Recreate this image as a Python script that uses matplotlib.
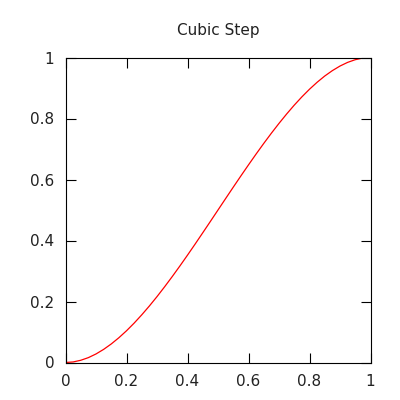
import matplotlib
matplotlib.use("Agg")
import matplotlib.pyplot as plt

x_vals = [0.0, 0.025, 0.05, 0.075, 0.1, 0.125, 0.15, 0.175, 0.2, 0.225, 0.25,
          0.275, 0.3, 0.325, 0.35, 0.375, 0.4, 0.425, 0.45, 0.475, 0.5,
          0.525, 0.55, 0.575, 0.6, 0.625, 0.65, 0.675, 0.7, 0.725, 0.75,
          0.775, 0.8, 0.825, 0.85, 0.875, 0.9, 0.925, 0.95, 0.975, 1.0]
y_vals = [0.0, 0.0018, 0.0073, 0.0160, 0.0280, 0.0430, 0.0608, 0.0812, 0.1040, 0.1291, 0.1563,
          0.1853, 0.2160, 0.2483, 0.2818, 0.3164, 0.3520, 0.3883, 0.4253, 0.4625, 0.5,
          0.5375, 0.5748, 0.6117, 0.6480, 0.6836, 0.7183, 0.7518, 0.7840, 0.8147, 0.8438,
          0.8709, 0.8960, 0.9188, 0.9393, 0.9570, 0.9720, 0.9840, 0.9928, 0.9982, 1.0]
x_ticks = [0, 0.2, 0.4, 0.6, 0.8, 1]
x_labels = ["0", "0.2", "0.4", "0.6", "0.8", "1"]
y_ticks = [0, 0.2, 0.4, 0.6, 0.8, 1]
y_labels = ["0", "0.2", "0.4", "0.6", "0.8", "1"]

fig = plt.figure(figsize=(4, 4), dpi=100)
ax = fig.add_axes([65.5/400, 1-362.5/400, (370.5-65.5)/400, (362.5-57.5)/400])
ax.plot(x_vals, y_vals, color="#ff0000", lw=0.9)
ax.set_xlim(0, 1)
ax.set_ylim(0, 1)
ax.set_xticks(x_ticks)
ax.set_xticklabels(x_labels)
ax.set_yticks(y_ticks)
ax.set_yticklabels(y_labels)
ax.tick_params(direction="in", length=7, width=0.8, top=True, right=True,
               labelsize=11, colors="black", labelcolor="#222222")
ax.tick_params(axis="x", pad=8.5)
ax.tick_params(axis="y", pad=8)
for s in ax.spines.values():
    s.set_linewidth(0.8)
fig.text((65.5+370.5)/2/400, 1-35/400, "Cubic Step", ha="center", va="baseline",
         fontsize=11, color="#222222")
fig.savefig("out.png", dpi=100)
